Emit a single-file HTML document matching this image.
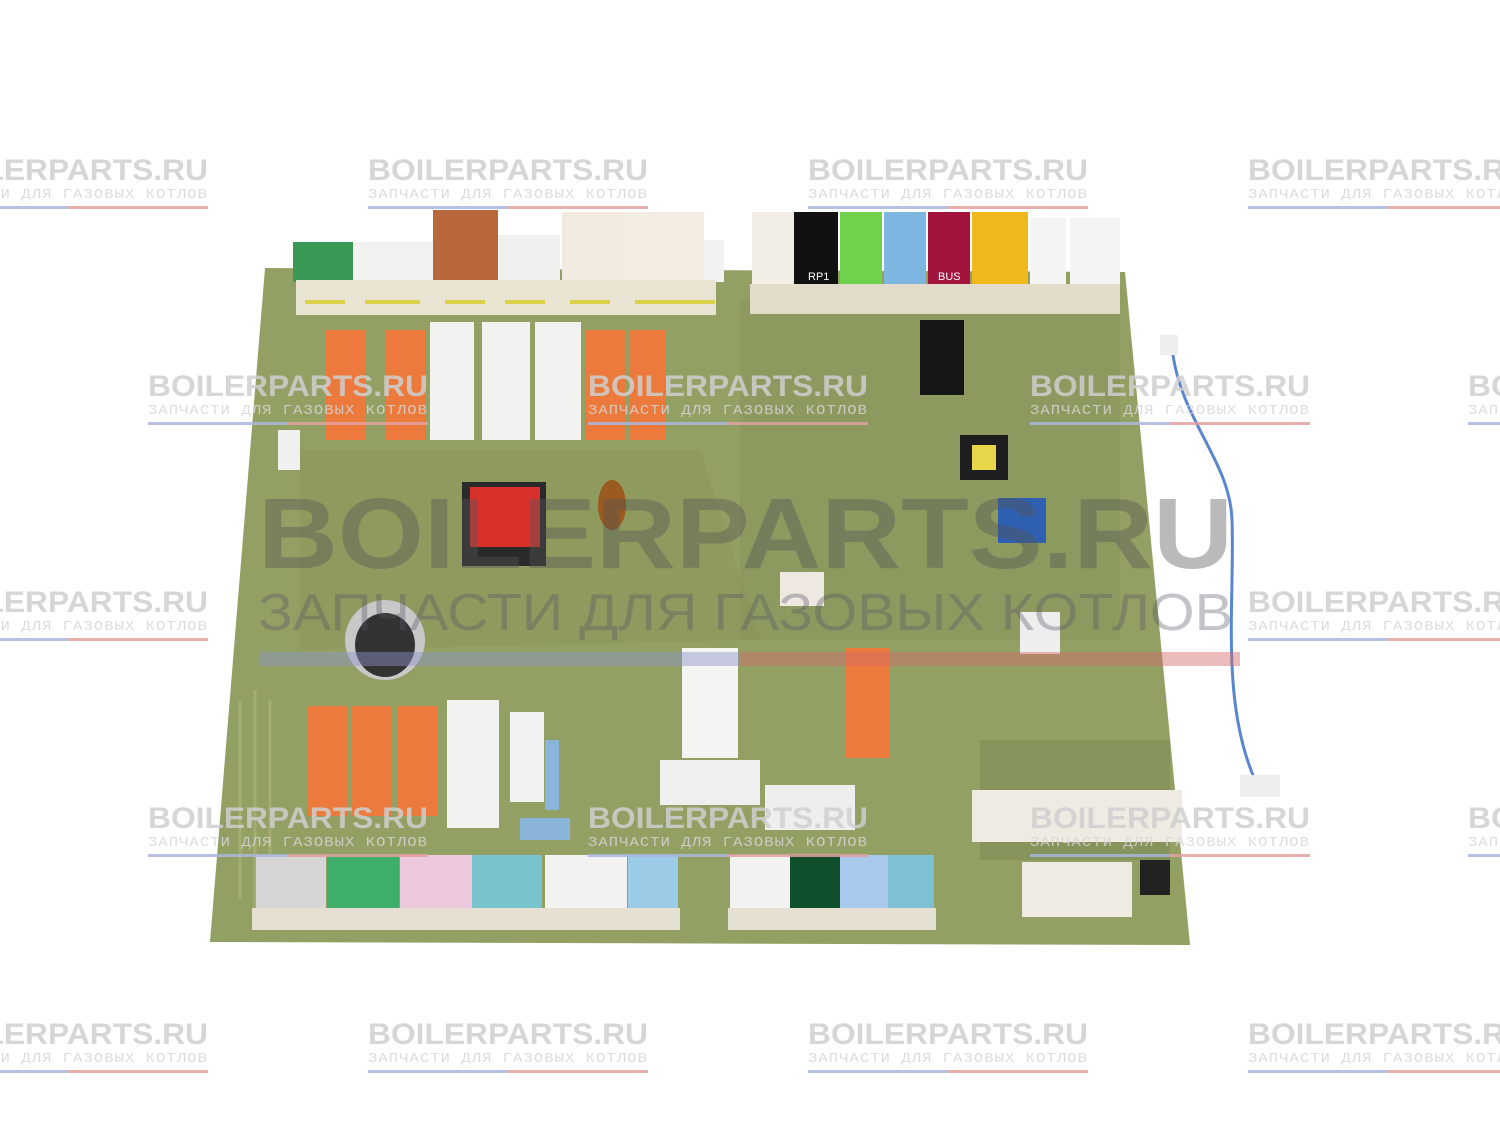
<!DOCTYPE html>
<html><head><meta charset="utf-8"><style>
html,body{margin:0;padding:0;background:#fff;width:1500px;height:1125px;overflow:hidden}
svg{display:block}
.wm{font-family:"Liberation Sans",sans-serif;font-weight:bold;font-size:30px;fill:#cfcfcf}
.ws{font-family:"Liberation Mono","DejaVu Sans Mono",monospace;font-size:14px;fill:#d6d6d6;letter-spacing:1px}
.lb{font-family:"Liberation Sans",sans-serif;font-size:11px;fill:#555}
</style></head><body>
<svg width="1500" height="1125" viewBox="0 0 1500 1125" xmlns="http://www.w3.org/2000/svg">
<defs>
<g id="wm">
<text class="wm" x="0" y="0" textLength="280" lengthAdjust="spacingAndGlyphs">BOILERPARTS.RU</text>
<text class="ws" x="0" y="18" textLength="280" lengthAdjust="spacingAndGlyphs">ЗАПЧАСТИ ДЛЯ ГАЗОВЫХ КОТЛОВ</text>
<rect x="0" y="26" width="140" height="3" fill="#a9b6de"/><rect x="140" y="26" width="140" height="3" fill="#e3a0a0"/>
</g>
</defs>

<!-- board -->
<polygon points="265,268 1125,272 1190,945 210,942" fill="#93a064"/>
<polygon points="300,450 700,450 760,640 300,650" fill="#8a965a" opacity=".6"/>
<rect x="740" y="300" width="380" height="340" fill="#85935a" opacity=".45"/>
<rect x="980" y="740" width="190" height="120" fill="#7a8552" opacity=".5"/>
<path d="M240,700 L240,900 M255,690 L255,910 M270,700 L270,920" stroke="#a5ad72" stroke-width="3" fill="none"/>
<!-- top connectors -->
<rect x="293" y="242" width="60" height="40" fill="#3a9a55"/>
<rect x="353" y="242" width="80" height="40" fill="#f2f2f0"/>
<rect x="433" y="210" width="65" height="72" fill="#b8683a"/>
<rect x="498" y="235" width="62" height="47" fill="#f0f0ee"/>
<rect x="562" y="212" width="60" height="70" fill="#f3ebe0"/>
<rect x="622" y="212" width="82" height="70" fill="#f3ece2"/>
<rect x="704" y="240" width="20" height="42" fill="#f2f2f2"/>
<rect x="296" y="280" width="420" height="35" fill="#e9e4d2"/>
<g fill="#d9d24a"><rect x="305" y="300" width="40" height="4"/><rect x="365" y="300" width="55" height="4"/><rect x="445" y="300" width="40" height="4"/><rect x="505" y="300" width="40" height="4"/><rect x="570" y="300" width="40" height="4"/><rect x="635" y="300" width="80" height="4"/></g>
<rect x="752" y="212" width="42" height="72" fill="#f2eee6"/>
<rect x="794" y="212" width="44" height="72" fill="#111"/>
<rect x="840" y="212" width="42" height="72" fill="#6fd24a"/>
<rect x="884" y="212" width="42" height="72" fill="#7eb6e2"/>
<rect x="928" y="212" width="42" height="72" fill="#a3143c"/>
<rect x="972" y="212" width="56" height="72" fill="#f0b81c"/>
<rect x="1030" y="218" width="36" height="66" fill="#f4f4f4"/>
<rect x="1070" y="218" width="50" height="66" fill="#f4f4f4"/>
<rect x="750" y="284" width="370" height="30" fill="#e4dccb"/>
<text class="lb" x="808" y="280" style="fill:#fff">RP1</text>
<text class="lb" x="938" y="280" style="fill:#fff">BUS</text>
<!-- top relays -->
<g fill="#ec7a3c"><rect x="325" y="330" width="40" height="110"/><rect x="385" y="330" width="40" height="110"/><rect x="586" y="330" width="40" height="110"/><rect x="630" y="330" width="36" height="110"/></g>
<g fill="#f2f2f0"><rect x="430" y="322" width="44" height="118"/><rect x="482" y="322" width="48" height="118"/><rect x="535" y="322" width="46" height="118"/></g>
<rect x="920" y="320" width="44" height="75" fill="#161616"/>
<rect x="960" y="435" width="48" height="45" fill="#1e1e1e"/><rect x="972" y="445" width="24" height="25" fill="#e8d64a"/>
<rect x="998" y="498" width="48" height="45" fill="#2f5fb0"/>
<rect x="278" y="430" width="22" height="40" fill="#f0f0f0"/>
<!-- middle -->
<rect x="462" y="482" width="84" height="84" fill="#2a2a2a"/><rect x="470" y="487" width="70" height="60" fill="#d8312c"/>
<ellipse cx="612" cy="505" rx="14" ry="25" fill="#9a5a20"/>
<ellipse cx="385" cy="640" rx="40" ry="40" fill="#c8c8c8"/><ellipse cx="385" cy="645" rx="30" ry="32" fill="#333"/>
<rect x="780" y="572" width="44" height="34" fill="#eee8e0"/>
<rect x="682" y="648" width="56" height="110" fill="#f4f4f2"/>
<rect x="845" y="648" width="44" height="110" fill="#ec7a3c"/>
<rect x="1020" y="612" width="40" height="42" fill="#eee"/>
<!-- lower relays -->
<g fill="#ec7a3c"><rect x="308" y="706" width="40" height="110"/><rect x="352" y="706" width="40" height="110"/><rect x="398" y="706" width="40" height="110"/></g>
<rect x="447" y="700" width="52" height="128" fill="#f2f2f0"/>
<rect x="510" y="712" width="34" height="90" fill="#f2f2f2"/>
<rect x="545" y="740" width="14" height="70" fill="#8ab4d8"/>
<rect x="520" y="818" width="50" height="22" fill="#8ab4d8"/>
<rect x="660" y="760" width="100" height="45" fill="#efefef"/>
<rect x="765" y="785" width="90" height="45" fill="#eee"/>
<rect x="972" y="790" width="210" height="52" fill="#efebe2"/>
<rect x="1022" y="862" width="110" height="55" fill="#efebe2"/>
<!-- bottom connectors -->
<rect x="256" y="855" width="70" height="55" fill="#d6d6d6"/>
<rect x="327" y="855" width="72" height="55" fill="#3fae6a"/>
<rect x="400" y="855" width="72" height="55" fill="#ecc8dc"/>
<rect x="472" y="855" width="70" height="55" fill="#78c4cc"/>
<rect x="545" y="855" width="82" height="55" fill="#f2f2f2"/>
<rect x="628" y="855" width="50" height="55" fill="#9ccbe8"/>
<rect x="730" y="855" width="60" height="55" fill="#f2f2f2"/>
<rect x="790" y="855" width="50" height="55" fill="#0f4f2c"/>
<rect x="840" y="855" width="48" height="55" fill="#a8c8ec"/>
<rect x="888" y="855" width="46" height="55" fill="#7ec0d4"/>
<rect x="252" y="908" width="428" height="22" fill="#e6e0d2"/>
<rect x="728" y="908" width="208" height="22" fill="#e6e0d2"/>
<rect x="1140" y="860" width="30" height="35" fill="#222"/>
<!-- blue wire -->
<path d="M1172,348 C1180,420 1230,460 1232,520 C1235,600 1220,700 1255,780" stroke="#5a86d0" stroke-width="3" fill="none"/>
<rect x="1240" y="775" width="40" height="22" fill="#eee"/>
<rect x="1160" y="335" width="18" height="20" fill="#eee"/>

<!-- watermarks (on top, translucent) -->
<g opacity=".85">
<use href="#wm" x="368" y="180"/><use href="#wm" x="808" y="180"/><use href="#wm" x="1248" y="180"/><use href="#wm" x="-72" y="180"/>
<use href="#wm" x="148" y="396"/><use href="#wm" x="588" y="396"/><use href="#wm" x="1030" y="396"/><use href="#wm" x="1468" y="396"/>
<use href="#wm" x="-72" y="612"/><use href="#wm" x="1248" y="612"/>
<use href="#wm" x="148" y="828"/><use href="#wm" x="588" y="828"/><use href="#wm" x="1030" y="828"/><use href="#wm" x="1468" y="828"/>
<use href="#wm" x="368" y="1044"/><use href="#wm" x="808" y="1044"/><use href="#wm" x="1248" y="1044"/><use href="#wm" x="-72" y="1044"/>
</g>
<!-- big watermark -->
<text x="258" y="568" textLength="975" lengthAdjust="spacingAndGlyphs" font-family="Liberation Sans,sans-serif" font-weight="bold" font-size="100" fill="#555" opacity=".4">BOILERPARTS.RU</text>
<text x="258" y="630" textLength="975" lengthAdjust="spacingAndGlyphs" font-family="Liberation Sans,sans-serif" font-size="52" fill="#556" opacity=".35">ЗАПЧАСТИ ДЛЯ ГАЗОВЫХ КОТЛОВ</text>
<rect x="260" y="652" width="480" height="14" fill="#8b93c8" opacity=".45"/><rect x="740" y="652" width="500" height="14" fill="#d46a6a" opacity=".45"/>
</svg>
</body></html>
